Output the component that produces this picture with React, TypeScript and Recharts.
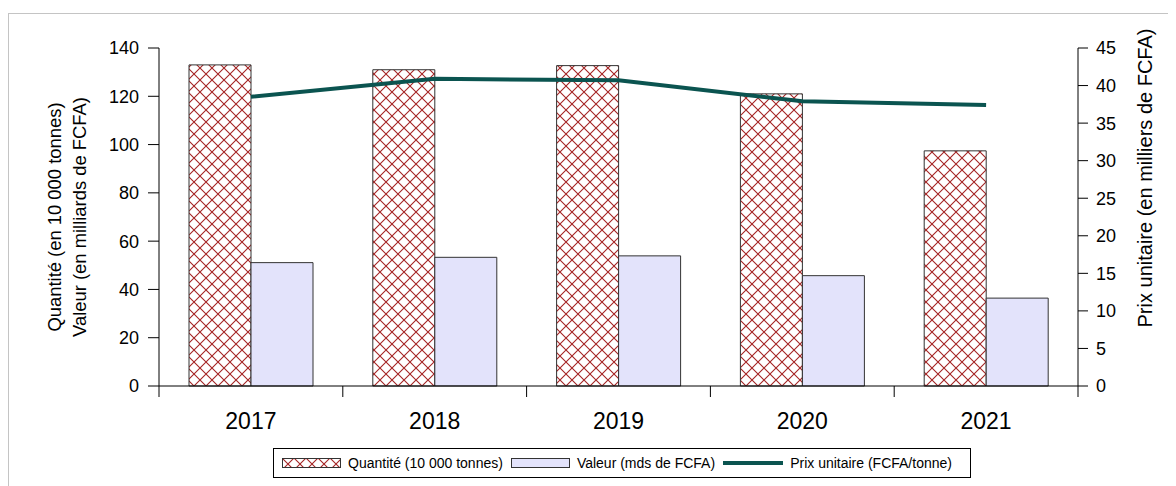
import React from "react";
import { Bar, ComposedChart, Line, XAxis, YAxis } from "recharts";

// Years on the category axis
const annees = ["2017", "2018", "2019", "2020", "2021"];
// Quantité, in 10 000 tonnes
const quantites = [133, 131, 132.7, 121, 97.4];
// Valeur, in billions of FCFA
const valeurs = [51.1, 53.3, 53.9, 45.7, 36.4];
// Prix unitaire, in thousands of FCFA per tonne
const prixUnitaires = [38.5, 40.9, 40.7, 37.9, 37.4];

const ticksGauche = [0, 20, 40, 60, 80, 100, 120, 140];
const ticksDroite = [0, 5, 10, 15, 20, 25, 30, 35, 40, 45];

const donnees = annees.map((annee, i) => ({
  annee,
  quantite: quantites[i],
  valeur: valeurs[i],
  prix: prixUnitaires[i],
}));

const POLICE = "'Liberation Sans', Arial, sans-serif";
const HACHURE = "#a52323";
const BLEU = "#e3e3fb";
const VERT = "#0b5450";

function TickAnnee(props: any) {
  const { x, y, payload, index, visibleTicksCount } = props;
  const demi = payload?.offset ?? 91.9;
  const dernier = index === (visibleTicksCount ?? annees.length) - 1;
  return (
    <g>
      <line x1={x - demi} x2={x - demi} y1={y} y2={y + 11} stroke="#000" />
      {dernier && <line x1={x + demi} x2={x + demi} y1={y} y2={y + 11} stroke="#000" />}
      <text
        x={x}
        y={y + 35}
        textAnchor="middle"
        dominantBaseline="central"
        fontSize={23}
        fontFamily={POLICE}
        fill="#000"
      >
        {payload.value}
      </text>
    </g>
  );
}

function TitreGauche(props: any) {
  const vb = props.viewBox ?? { x: 0, y: 40, width: 151, height: 338 };
  const cy = vb.y + vb.height / 2;
  const lignes = [
    { cx: vb.x + 46, t: "Quantité (en 10 000 tonnes)" },
    { cx: vb.x + 71, t: "Valeur (en milliards de FCFA)" },
  ];
  return (
    <g>
      {lignes.map((l) => (
        <text
          key={l.t}
          x={l.cx}
          y={cy}
          transform={`rotate(-90 ${l.cx} ${cy})`}
          textAnchor="middle"
          dominantBaseline="central"
          fontSize={18.4}
          fontFamily={POLICE}
          fill="#000"
        >
          {l.t}
        </text>
      ))}
    </g>
  );
}

function TitreDroite(props: any) {
  const vb = props.viewBox ?? { x: 1070, y: 40, width: 98, height: 338 };
  const cx = vb.x + 67;
  const cy = vb.y + 130;
  return (
    <text
      x={cx}
      y={cy}
      transform={`rotate(-90 ${cx} ${cy})`}
      textAnchor="middle"
      dominantBaseline="central"
      fontSize={20}
      fontFamily={POLICE}
      fill="#000"
    >
      Prix unitaire (en milliers de FCFA)
    </text>
  );
}

function MotifHachure({ id }: { id: string }) {
  return (
    <pattern id={id} patternUnits="userSpaceOnUse" width={12} height={12}>
      <rect width={12} height={12} fill="#fff" />
      <path d="M0,0 L12,12 M12,0 L0,12" stroke={HACHURE} strokeWidth={1.1} />
    </pattern>
  );
}

function Legende() {
  const texte: React.CSSProperties = { fontSize: 14, whiteSpace: "nowrap" };
  return (
    <div
      style={{
        position: "absolute",
        left: 265,
        top: 440,
        width: 688,
        height: 28,
        border: "1px solid #000",
        background: "#fff",
        display: "flex",
        alignItems: "center",
        paddingLeft: 8,
        boxSizing: "content-box",
        fontFamily: POLICE,
      }}
    >
      <svg width={59} height={10} style={{ marginRight: 7 }}>
        <defs>
          <MotifHachure id="hachure-legende" />
        </defs>
        <rect x={0.5} y={0.5} width={58} height={9} fill="url(#hachure-legende)" stroke="#333" />
      </svg>
      <span style={texte}>Quantité (10 000 tonnes)</span>
      <svg width={59} height={10} style={{ marginLeft: 8, marginRight: 7 }}>
        <rect x={0.5} y={0.5} width={58} height={9} fill={BLEU} stroke="#333" />
      </svg>
      <span style={texte}>Valeur (mds de FCFA)</span>
      <svg width={60} height={10} style={{ marginLeft: 8, marginRight: 7 }}>
        <line x1={0} x2={60} y1={5} y2={5} stroke={VERT} strokeWidth={4} />
      </svg>
      <span style={texte}>Prix unitaire (FCFA/tonne)</span>
    </div>
  );
}

export default function App() {
  return (
    <div style={{ position: "relative", width: 1168, height: 478, fontFamily: POLICE }}>
      <div
        style={{
          position: "absolute",
          left: 0,
          top: 5,
          width: 1168,
          height: 473,
          borderTop: "1px solid #c4c4c4",
          borderLeft: "1px solid #c4c4c4",
        }}
      />
      <ComposedChart
        width={1168}
        height={478}
        data={donnees}
        margin={{ top: 40, right: 0, left: 0, bottom: 0 }}
        barGap={0}
        style={{ position: "absolute", left: 0, top: 0 }}
      >
        <defs>
          <MotifHachure id="hachure" />
        </defs>
        <XAxis
          dataKey="annee"
          height={100}
          axisLine={{ stroke: "#000" }}
          tickLine={false}
          tickSize={0}
          tickMargin={0}
          tick={<TickAnnee />}
          interval={0}
        />
        <YAxis
          yAxisId="gauche"
          width={151}
          domain={[0, 140]}
          ticks={ticksGauche}
          interval={0}
          axisLine={{ stroke: "#000" }}
          tickLine={{ stroke: "#000" }}
          tickSize={11}
          tickMargin={9}
          tick={{ fontSize: 18, fill: "#000", fontFamily: POLICE }}
          label={<TitreGauche />}
        />
        <YAxis
          yAxisId="droite"
          orientation="right"
          width={98}
          domain={[0, 45]}
          ticks={ticksDroite}
          interval={0}
          axisLine={{ stroke: "#000" }}
          tickLine={{ stroke: "#000" }}
          tickSize={10}
          tickMargin={8}
          tick={{ fontSize: 18, fill: "#000", fontFamily: POLICE }}
          label={<TitreDroite />}
        />
        <Bar
          yAxisId="gauche"
          dataKey="quantite"
          barSize={62}
          fill="url(#hachure)"
          stroke="#333"
          strokeWidth={1}
          isAnimationActive={false}
        />
        <Bar
          yAxisId="gauche"
          dataKey="valeur"
          barSize={62}
          fill={BLEU}
          stroke="#333"
          strokeWidth={1}
          isAnimationActive={false}
        />
        <Line
          yAxisId="droite"
          dataKey="prix"
          type="linear"
          stroke={VERT}
          strokeWidth={4}
          dot={false}
          activeDot={false}
          isAnimationActive={false}
        />
      </ComposedChart>
      <Legende />
    </div>
  );
}
